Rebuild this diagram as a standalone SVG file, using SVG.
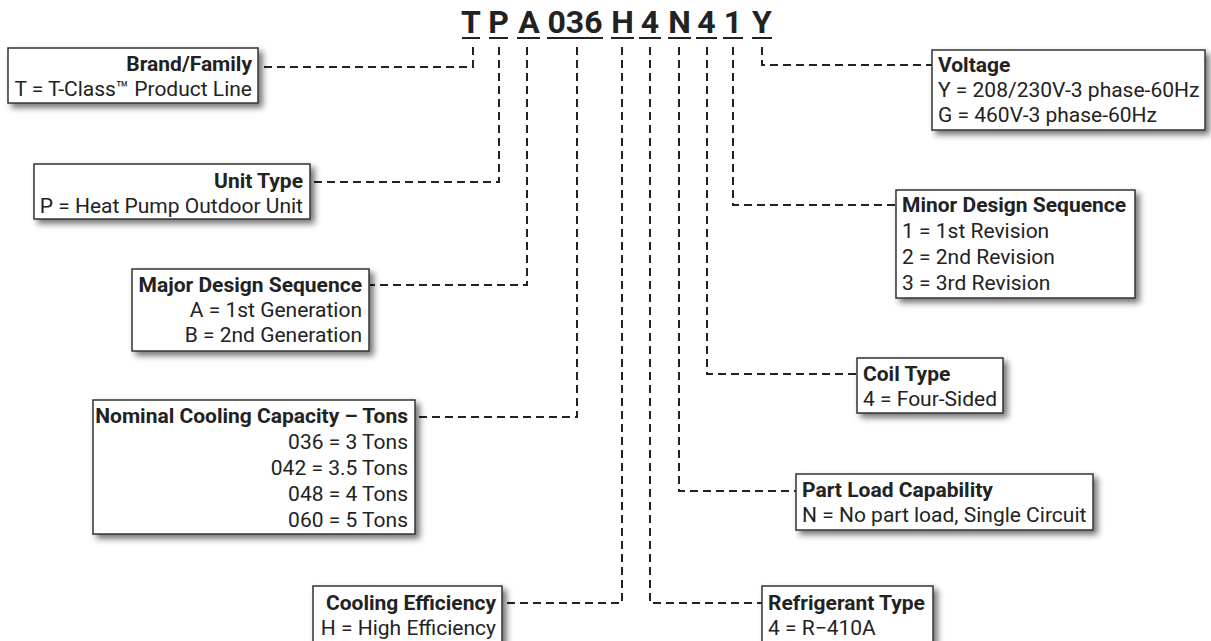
<svg xmlns="http://www.w3.org/2000/svg" width="1211" height="641" viewBox="0 0 1211 641">
<defs>
<filter id="sh" x="-10%" y="-20%" width="130%" height="160%">
<feDropShadow dx="4" dy="4" stdDeviation="3" flood-color="#000" flood-opacity="0.55"/>
</filter>
<style>
.box{fill:#fff;stroke:#333;stroke-width:1.5;filter:url(#sh)}
.t{font-family:Roboto,"Liberation Sans",sans-serif;font-size:21px;fill:#222}
.b{font-weight:bold}
.r{text-anchor:end}
.code{font-family:Roboto,"Liberation Sans",sans-serif;font-size:32px;font-weight:bold;fill:#222;text-anchor:middle}
.ul{stroke:#222;stroke-width:2}
.c{fill:none;stroke:#222;stroke-width:2;stroke-dasharray:8 5}
</style>
</defs>
<rect width="1211" height="641" fill="#fff"/>
<g id="code">
<text class="code" x="471" y="33">T</text>
<text class="code" x="498.5" y="33">P</text>
<text class="code" x="529" y="33">A</text>
<text class="code" x="575" y="33">036</text>
<text class="code" x="622.5" y="33">H</text>
<text class="code" x="650" y="33">4</text>
<text class="code" x="679.5" y="33">N</text>
<text class="code" x="706.5" y="33">4</text>
<text class="code" x="733" y="33">1</text>
<text class="code" x="762" y="33">Y</text>
<path class="ul" d="M462,38H480M489,38H508M517,38H540M547,38H603M611,38H634M639,38H661M668,38H691M696,38H717M723,38H743M752,38H772"/>
</g>
<g id="connectors">
<path class="c" d="M473,47V67H259"/>
<path class="c" d="M499,47V182H311"/>
<path class="c" d="M527,47V285H370"/>
<path class="c" d="M577,47V417H416"/>
<path class="c" d="M622,47V603H503"/>
<path class="c" d="M650,47V603H762"/>
<path class="c" d="M679,47V491H796"/>
<path class="c" d="M707,47V374H857"/>
<path class="c" d="M733,47V205H896"/>
<path class="c" d="M762,47V65H932"/>
</g>
<g id="brand">
<rect class="box" x="8" y="48" width="250" height="55"/>
<text class="t b r" x="252" y="71">Brand/Family</text>
<text class="t r" x="252" y="96">T = T-Class™ Product Line</text>
</g>
<g id="unit-type">
<rect class="box" x="34" y="164" width="276" height="55"/>
<text class="t b r" x="303" y="188">Unit Type</text>
<text class="t r" x="303" y="213">P = Heat Pump Outdoor Unit</text>
</g>
<g id="major">
<rect class="box" x="132" y="269" width="237" height="82"/>
<text class="t b r" x="362" y="292">Major Design Sequence</text>
<text class="t r" x="362" y="317">A = 1st Generation</text>
<text class="t r" x="362" y="342">B = 2nd Generation</text>
</g>
<g id="nominal">
<rect class="box" x="93" y="400" width="322" height="134"/>
<text class="t b r" x="408" y="423">Nominal Cooling Capacity – Tons</text>
<text class="t r" x="408" y="449">036 = 3 Tons</text>
<text class="t r" x="408" y="475">042 = 3.5 Tons</text>
<text class="t r" x="408" y="501">048 = 4 Tons</text>
<text class="t r" x="408" y="527">060 = 5 Tons</text>
</g>
<g id="cooling">
<rect class="box" x="313" y="586" width="189" height="70"/>
<text class="t b r" x="496" y="610">Cooling Efficiency</text>
<text class="t r" x="496" y="635">H = High Efficiency</text>
</g>
<g id="refrigerant">
<rect class="box" x="762" y="586" width="171" height="70"/>
<text class="t b" x="768" y="610">Refrigerant Type</text>
<text class="t" x="768" y="635">4 = R−410A</text>
</g>
<g id="part-load">
<rect class="box" x="796" y="474" width="297" height="56"/>
<text class="t b" x="802" y="497">Part Load Capability</text>
<text class="t" x="802" y="522">N = No part load, Single Circuit</text>
</g>
<g id="coil">
<rect class="box" x="857" y="358" width="146" height="55"/>
<text class="t b" x="863" y="381">Coil Type</text>
<text class="t" x="863" y="406">4 = Four-Sided</text>
</g>
<g id="minor">
<rect class="box" x="896" y="190" width="239" height="108"/>
<text class="t b" x="902" y="212">Minor Design Sequence</text>
<text class="t" x="902" y="238">1 = 1st Revision</text>
<text class="t" x="902" y="264">2 = 2nd Revision</text>
<text class="t" x="902" y="290">3 = 3rd Revision</text>
</g>
<g id="voltage">
<rect class="box" x="932" y="50" width="273" height="80"/>
<text class="t b" x="938" y="72">Voltage</text>
<text class="t" x="938" y="97">Y = 208/230V-3 phase-60Hz</text>
<text class="t" x="938" y="122">G = 460V-3 phase-60Hz</text>
</g>
</svg>
